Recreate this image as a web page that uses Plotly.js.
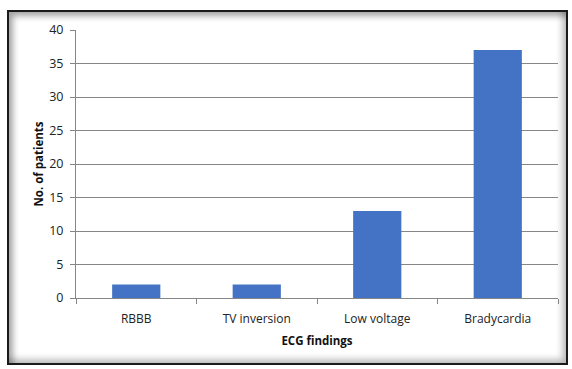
<!DOCTYPE html>
<html>
<head>
<meta charset="utf-8">
<script src="https://cdn.plot.ly/plotly-3.0.1.min.js"></script>
<style>
html,body{margin:0;padding:0;background:#fff;}
#wrap{position:relative;width:572px;height:369px;overflow:hidden;}
#frame{position:absolute;left:7px;top:10px;width:557px;height:351px;border:2px solid #1a1a1a;box-shadow:inset 4px 4px 6px rgba(0,0,0,0.35), inset -4px -4px 6px rgba(0,0,0,0.25);background:#fff;}
#chart{position:absolute;left:0;top:0;width:572px;height:369px;}
</style>
</head>
<body>
<div id="wrap">
<div id="frame"></div>
<div id="chart"></div>
</div>
<script>
const categories = ["RBBB", "TV inversion", "Low voltage", "Bradycardia"];
const patients = [2, 2, 13, 37];
const yTicks = [0, 5, 10, 15, 20, 25, 30, 35, 40];

const font = "'Open Sans', 'Noto Sans', sans-serif";

Plotly.newPlot('chart', [{
  type: 'bar',
  x: categories,
  y: patients,
  marker: {color: '#4472C4'},
  width: 0.4,
  hoverinfo: 'none'
}], {
  width: 572, height: 369,
  margin: {l: 76, r: 14, t: 30, b: 71},
  paper_bgcolor: 'rgba(0,0,0,0)',
  plot_bgcolor: 'rgba(0,0,0,0)',
  showlegend: false,
  font: {family: font, size: 12, color: '#222'},
  xaxis: {
    type: 'category',
    range: [-0.5, 3.5],
    showline: true, linecolor: '#868686', linewidth: 1,
    ticks: 'outside', ticklen: 5, tickcolor: '#868686',
    tickson: 'boundaries',
    ticklabelstandoff: 10,
    showgrid: false,
    tickfont: {family: font, size: 12, color: '#222'},
    title: {text: '<b>ECG findings</b>', font: {family: font, size: 11.5, color: '#111'}, standoff: 10}
  },
  yaxis: {
    range: [0, 40],
    tickvals: yTicks,
    showline: true, linecolor: '#868686', linewidth: 1,
    ticks: 'outside', ticklen: 5, tickcolor: '#868686',
    ticklabelstandoff: 4,
    showgrid: true, gridcolor: '#868686', gridwidth: 1,
    zeroline: false,
    tickfont: {family: font, size: 12.5, color: '#222'},
    title: {text: '<b>No. of patients</b>', font: {family: font, size: 11.5, color: '#111'}, standoff: 3}
  }
}, {staticPlot: true});
</script>
</body>
</html>
